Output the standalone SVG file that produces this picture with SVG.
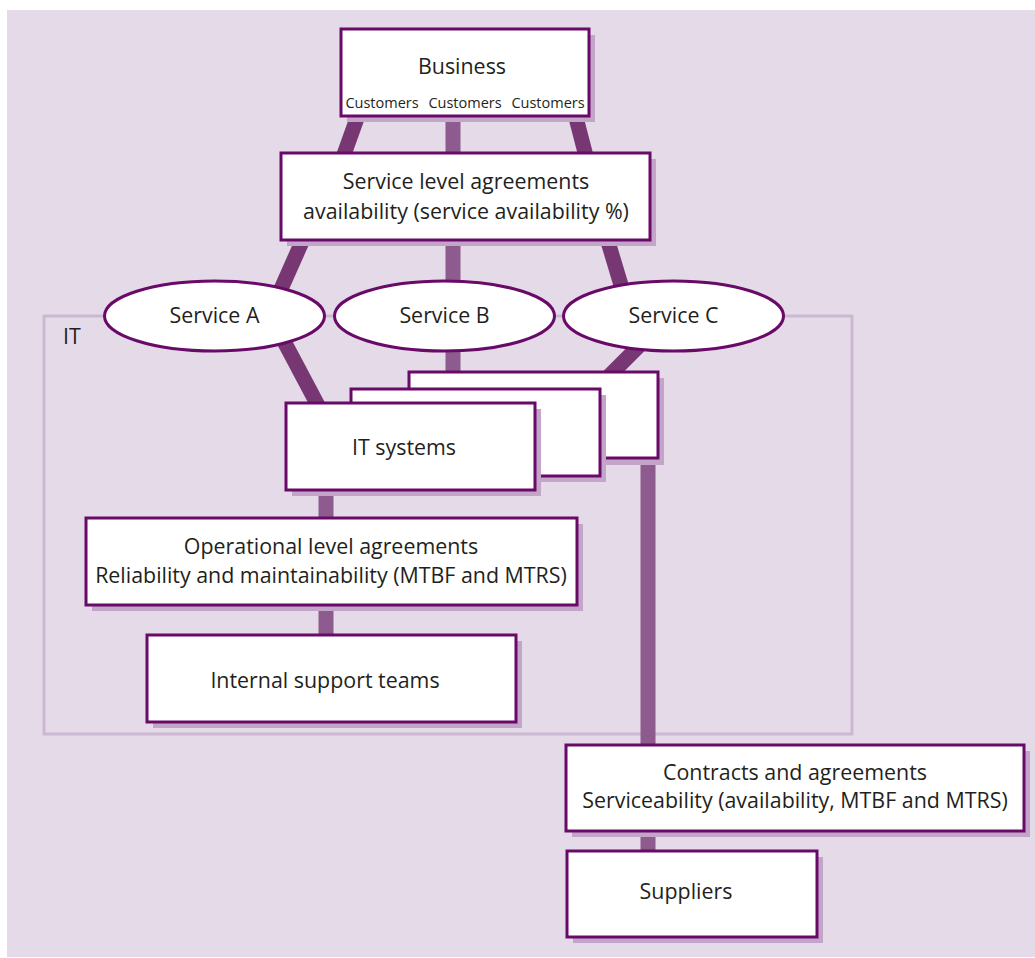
<svg xmlns="http://www.w3.org/2000/svg" width="1035" height="958" viewBox="0 0 1035 958">
<style>
.bg{fill:#e5dae8}
.box{fill:#ffffff;stroke:#690a69;stroke-width:3}
.sh{fill:#c2a5c8}
.t{font-family:"Open Sans","Noto Sans","Liberation Sans",sans-serif;font-size:21.4px;fill:#231f20;text-anchor:middle}
.s{font-size:14.5px}
.cd{stroke:#773772;stroke-width:15;fill:none}
.cv{stroke:#8d5b8e;stroke-width:15;fill:none}
.it{fill:none;stroke:#cbb9d1;stroke-width:3}
</style>
<rect x="0" y="0" width="1035" height="958" fill="#ffffff"/>
<rect class="bg" x="7" y="10" width="1028" height="947"/>
<g id="it-region">
<rect class="it" x="44" y="316" width="808" height="418"/>
<text class="t" x="63" y="344" style="text-anchor:start">IT</text>
</g>
<g id="connectors">
<line class="cd" x1="360" y1="110" x2="342" y2="160"/>
<line class="cv" x1="453" y1="110" x2="453" y2="160"/>
<line class="cd" x1="574" y1="110" x2="587" y2="160"/>
<line class="cd" x1="305" y1="235" x2="277" y2="298"/>
<line class="cv" x1="453" y1="235" x2="453" y2="290"/>
<line class="cd" x1="606" y1="235" x2="624" y2="295"/>
<line class="cd" x1="278" y1="330" x2="322" y2="413"/>
<line class="cv" x1="453" y1="340" x2="453" y2="380"/>
<line class="cd" x1="648" y1="337" x2="603" y2="382"/>
<line class="cv" x1="648" y1="450" x2="648" y2="750"/>
<line class="cv" x1="326" y1="485" x2="326" y2="522"/>
<line class="cv" x1="326" y1="600" x2="326" y2="640"/>
<line class="cv" x1="648" y1="826" x2="648" y2="856"/>
</g>
<g id="business">
<rect class="sh" x="347" y="35" width="248" height="87"/>
<rect class="box" x="341" y="29" width="248" height="87"/>
<text class="t" x="462" y="74">Business</text>
<text class="t s" x="382" y="108">Customers</text>
<text class="t s" x="465" y="108">Customers</text>
<text class="t s" x="548" y="108">Customers</text>
</g>
<g id="sla">
<rect class="sh" x="287" y="159" width="369" height="87"/>
<rect class="box" x="281" y="153" width="369" height="87"/>
<text class="t" x="466" y="189">Service level agreements</text>
<text class="t" x="466" y="219">availability (service availability %)</text>
</g>
<g id="service-a">
<ellipse class="box" cx="214.5" cy="316" rx="110" ry="35"/>
<text class="t" x="214.5" y="323">Service A</text>
</g>
<g id="service-b">
<ellipse class="box" cx="444.5" cy="316" rx="110" ry="35"/>
<text class="t" x="444.5" y="323">Service B</text>
</g>
<g id="service-c">
<ellipse class="box" cx="673.5" cy="316" rx="110" ry="35"/>
<text class="t" x="673.5" y="323">Service C</text>
</g>
<g id="it-system-back">
<rect class="sh" x="415" y="378" width="249" height="87"/>
<rect class="box" x="409" y="372" width="249" height="86"/>
</g>
<g id="it-system-middle">
<rect class="sh" x="357" y="395" width="249" height="87"/>
<rect class="box" x="351" y="389" width="249" height="87"/>
</g>
<g id="it-systems">
<rect class="sh" x="292" y="409" width="249" height="87"/>
<rect class="box" x="286" y="403" width="249" height="87"/>
<text class="t" x="404" y="455">IT systems</text>
</g>
<g id="ola">
<rect class="sh" x="92" y="524" width="491" height="87"/>
<rect class="box" x="86" y="518" width="491" height="87"/>
<text class="t" x="331" y="554">Operational level agreements</text>
<text class="t" x="331" y="583">Reliability and maintainability (MTBF and MTRS)</text>
</g>
<g id="internal-support">
<rect class="sh" x="153" y="641" width="369" height="87"/>
<rect class="box" x="147" y="635" width="369" height="87"/>
<text class="t" x="325" y="688">Internal support teams</text>
</g>
<g id="contracts">
<rect class="sh" x="572" y="751" width="458" height="86"/>
<rect class="box" x="566" y="745" width="458" height="86"/>
<text class="t" x="795" y="780">Contracts and agreements</text>
<text class="t" x="795" y="808">Serviceability (availability, MTBF and MTRS)</text>
</g>
<g id="suppliers">
<rect class="sh" x="573" y="857" width="250" height="86"/>
<rect class="box" x="567" y="851" width="250" height="86"/>
<text class="t" x="686" y="899">Suppliers</text>
</g>
</svg>
